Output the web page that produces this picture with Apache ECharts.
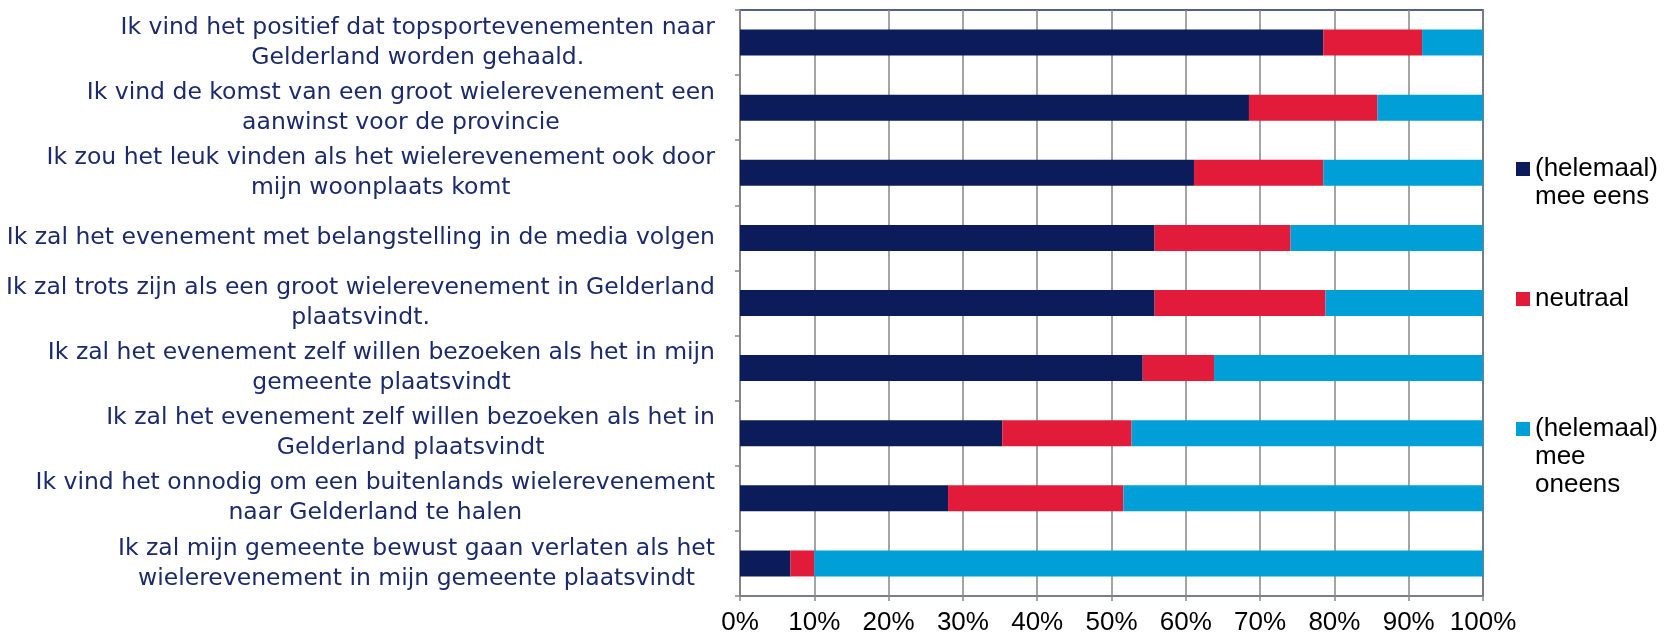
<!DOCTYPE html>
<html>
<head>
<meta charset="utf-8">
<script src="https://cdn.jsdelivr.net/npm/echarts@6/dist/echarts.min.js"></script>
<style>
    html, body { margin: 0; padding: 0; background: #fff; }
    #chart { width: 1679px; height: 640px; }
</style>
</head>
<body>
<div id="chart"></div>
<script>
// stellingen (van boven naar beneden)
var categories = [
    'Ik vind het positief dat topsportevenementen naar\nGelderland worden gehaald.',
    'Ik vind de komst van een groot wielerevenement een\naanwinst voor de provincie',
    'Ik zou het leuk vinden als het wielerevenement ook door\nmijn woonplaats komt',
    'Ik zal het evenement met belangstelling in de media volgen',
    'Ik zal trots zijn als een groot wielerevenement in Gelderland\nplaatsvindt.',
    'Ik zal het evenement zelf willen bezoeken als het in mijn\ngemeente plaatsvindt',
    'Ik zal het evenement zelf willen bezoeken als het in\nGelderland plaatsvindt',
    'Ik vind het onnodig om een buitenlands wielerevenement\nnaar Gelderland te halen',
    'Ik zal mijn gemeente bewust gaan verlaten als het\nwielerevenement in mijn gemeente plaatsvindt'
];
var seriesNames = ['(helemaal) mee eens', 'neutraal', '(helemaal) mee oneens'];
// percentages
var eens = [78.5, 68.5, 61.1, 55.8, 55.8, 54.2, 35.3, 28.0, 6.8];
var neutraal = [13.3, 17.3, 17.4, 18.3, 23.0, 9.6, 17.4, 23.6, 3.2];
var oneens = [8.2, 14.2, 21.5, 25.9, 21.2, 36.2, 47.3, 48.4, 90.0];
var colors = ['#0c1c5a', '#e21b3a', '#019fd8'];

// legend-tekst met regelafbreking zoals in het origineel;
// lege regels bovenaan zodat het blokje bij de eerste regel staat
var legendText = {
    '(helemaal) mee eens': '\n(helemaal)\nmee eens',
    'neutraal': 'neutraal',
    '(helemaal) mee oneens': '\n\n(helemaal)\nmee\noneens'
};
var legendTops = [127, 285, 359];

var chart = echarts.init(document.getElementById('chart'));

var seriesData = [eens, neutraal, oneens];
var series = [];
for (var i = 0; i < seriesNames.length; i++) {
    series.push({
        name: seriesNames[i],
        type: 'bar',
        stack: 'totaal',
        barWidth: 26,
        itemStyle: { color: colors[i] },
        data: seriesData[i]
    });
}

var legends = [];
for (var j = 0; j < seriesNames.length; j++) {
    legends.push({
        data: [seriesNames[j]],
        orient: 'vertical',
        left: 1516,
        top: legendTops[j],
        padding: 0,
        itemWidth: 14,
        itemHeight: 14,
        itemGap: 6,
        icon: 'rect',
        selectedMode: false,
        formatter: function (name) {
            return legendText[name];
        },
        textStyle: {
            fontFamily: 'Liberation Sans, Arial, sans-serif',
            fontSize: 26,
            lineHeight: 28,
            color: '#000'
        }
    });
}

var option = {
    animation: false,
    backgroundColor: '#fff',
    legend: legends,
    grid: {
        left: 740,
        right: 196,
        top: 10,
        bottom: 44,
        show: true,
        borderColor: '#1f2a6b',
        borderWidth: 1.5
    },
    xAxis: {
        type: 'value',
        min: 0,
        max: 100,
        interval: 10,
        axisLine: { show: true, lineStyle: { color: '#868686', width: 1.5 } },
        axisTick: { show: true, length: 5, lineStyle: { color: '#868686', width: 1.5 } },
        splitLine: { show: true, lineStyle: { color: '#868686', width: 1.5 } },
        axisLabel: {
            formatter: '{value}%',
            margin: 14,
            color: '#000',
            fontFamily: 'Liberation Sans, Arial, sans-serif',
            fontSize: 26
        }
    },
    yAxis: {
        type: 'category',
        inverse: true,
        data: categories,
        axisLine: { show: true, lineStyle: { color: '#868686', width: 1.5 } },
        axisTick: { show: true, length: 5, lineStyle: { color: '#868686', width: 1.5 } },
        splitLine: { show: false },
        axisLabel: {
            margin: 25,
            formatter: function (value) {
                return value.split('\n').map(function (line) {
                    return '{a|' + line + '}';
                }).join('\n');
            },
            rich: {
                a: {
                    align: 'center',
                    fontFamily: 'DejaVu Sans, sans-serif',
                    fontSize: 23.5,
                    lineHeight: 30,
                    color: '#1b2a6b'
                }
            }
        }
    },
    series: series
};

chart.setOption(option);
</script>
</body>
</html>
